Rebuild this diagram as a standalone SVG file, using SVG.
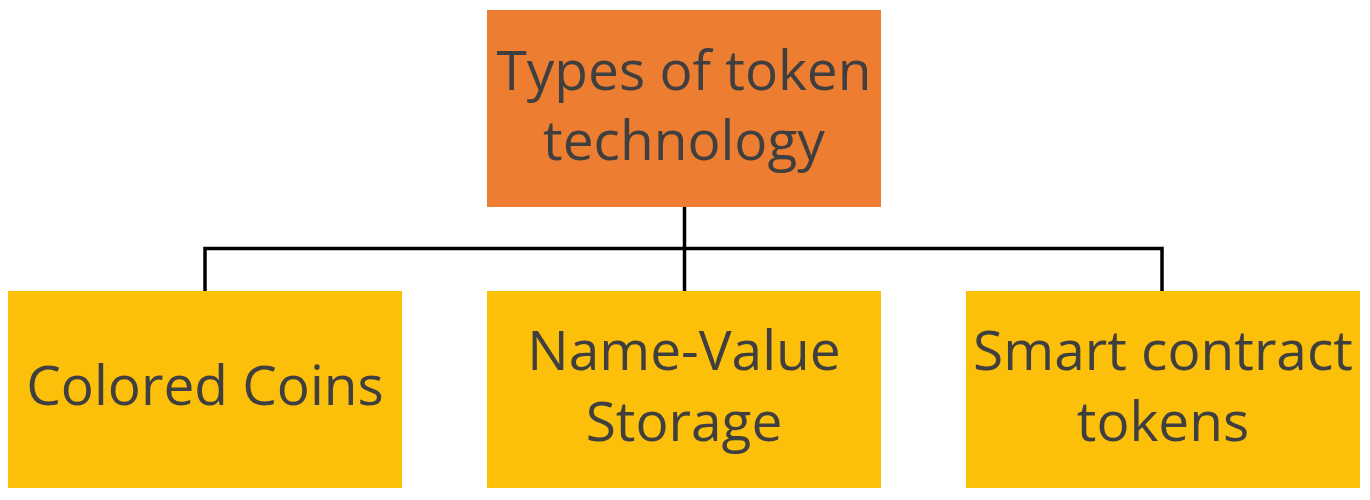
<svg xmlns="http://www.w3.org/2000/svg" width="1370" height="500" viewBox="0 0 1370 500">
<style>
.root{fill:#ED7D31}
.leaf{fill:#FDC00A}
.lbl{font-family:"Open Sans","Liberation Sans",sans-serif;font-size:55px;fill:#3F3F3F;text-anchor:middle}
.conn{stroke:#000;stroke-width:3.5;fill:none}
</style>
<rect width="1370" height="500" fill="#fff"/>
<g id="connectors">
<path class="conn" d="M684.5,207 V291"/>
<path class="conn" d="M205,291 V248.5 H1162 V291"/>
</g>
<g id="root">
<rect class="root" x="487" y="10" width="394" height="197"/>
<text class="lbl" x="684" y="90">Types of token</text>
<text class="lbl" x="684" y="160">technology</text>
</g>
<g id="colored-coins">
<rect class="leaf" x="8" y="291" width="394" height="197"/>
<text class="lbl" x="205" y="405">Colored Coins</text>
</g>
<g id="name-value">
<rect class="leaf" x="487" y="291" width="394" height="197"/>
<text class="lbl" x="684" y="370">Name-Value</text>
<text class="lbl" x="684" y="441">Storage</text>
</g>
<g id="smart-contract">
<rect class="leaf" x="966" y="291" width="394" height="197"/>
<text class="lbl" x="1163" y="370">Smart contract</text>
<text class="lbl" x="1163" y="441">tokens</text>
</g>
</svg>
